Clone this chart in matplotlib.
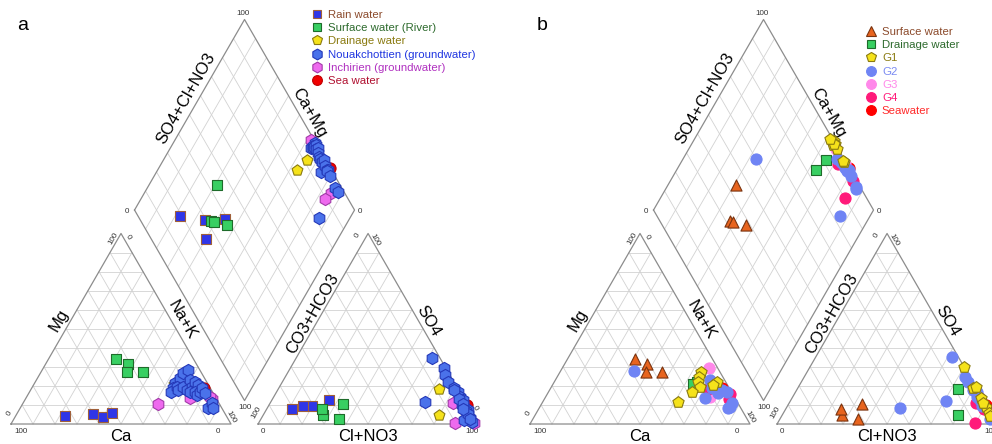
import numpy as np
import matplotlib
matplotlib.use('Agg')
import matplotlib.pyplot as plt
from matplotlib.lines import Line2D

plt.rcParams['font.family'] = ['Liberation Sans', 'DejaVu Sans']

# ---- sample data, % meq : Ca, Mg (cations) and Cl+NO3, SO4 (anions) ----
rain_ca = [73.4, 60.3, 56.3, 51.2]
rain_mg = [4.2, 5.1, 3.5, 5.6]
rain_cl = [11.5, 19.6, 15.5, 26.2]
rain_so4 = [7.7, 9.6, 9.6, 12.4]

river_ca = [35.2, 31.0, 33.5, 26.4]
river_mg = [34.1, 31.3, 27.5, 27.5]
river_cl = [33.6, 27.4, 24.9, 35.7]
river_so4 = [10.3, 4.6, 8.0, 2.6]

drain_ca = [13.0, 15.5]
drain_mg = [22.0, 21.0]
drain_cl = [73.1, 79.9]
drain_so4 = [18.4, 4.7]

nouak_ca = [14.8, 17.1, 19.1, 11.2, 8.4, 14.9, 5.2, 15.1, 11.9, 7.0, 11.2, 8.1,
            5.3, 10.1, 4.6, 7.9, 8.0, 5.6, 3.9, 3.8, 6.2, 3.3, 3.9]
nouak_mg = [21.4, 18.7, 16.6, 24.0, 26.6, 19.6, 28.3, 17.8, 19.6, 23.1, 17.8, 19.6,
            22.2, 17.0, 20.5, 17.0, 15.2, 17.0, 18.7, 16.1, 8.2, 10.9, 8.2]
nouak_cl = [62.0, 69.9, 72.2, 75.1, 79.5, 82.6, 84.8, 87.0, 90.0, 92.1, 94.9, 96.5,
            87.6, 92.0, 92.7, 80.0, 85.0, 88.0, 91.0, 93.0, 89.0, 70.0, 95.0]
nouak_so4 = [34.5, 29.6, 25.7, 22.2, 18.7, 17.0, 14.0, 12.6, 8.2, 5.6, 3.0, 1.2,
             10.0, 7.3, 2.1, 18.0, 13.0, 10.5, 7.0, 5.0, 8.0, 11.7, 2.5]

inch_ca = [27.9, 2.2, 2.4, 11.7]
inch_mg = [10.5, 13.0, 14.0, 13.8]
inch_cl = [98.0, 83.0, 89.2, 88.0]
inch_so4 = [0.5, 11.0, 0.3, 10.0]

sea_ca = [3.0]
sea_mg = [19.0]
sea_cl = [90.0]
sea_so4 = [10.0]

g1_ca = [8.5, 10.6, 12.4, 12.9, 18.0, 26.7, 4.0, 6.4]
g1_mg = [27.5, 24.8, 22.2, 19.6, 17.0, 11.7, 22.2, 20.5]
g1_cl = [70.0, 79.5, 80.5, 86.0, 90.5, 93.5, 88.0, 95.0]
g1_so4 = [30.0, 19.0, 19.5, 13.5, 9.0, 5.6, 11.0, 4.0]

g2_ca = [38.6, 6.6, 8.1, 6.2, 4.0, 2.1, 4.5, 2.9, 5.8, 13.7, 6.4]
g2_mg = [28.0, 23.1, 18.7, 17.8, 17.8, 17.0, 9.1, 10.9, 8.2, 13.5, 16.1]
g2_cl = [51.8, 61.9, 73.1, 75.9, 82.3, 86.0, 88.3, 70.8, 95.5, 80.0, 84.0]
g2_so4 = [8.2, 35.0, 24.8, 22.2, 17.0, 12.6, 9.4, 12.1, 2.5, 18.0, 14.0]

g3_ca = [3.9, 11.0]
g3_mg = [29.2, 14.3]
g3_cl = [82.0, 85.0]
g3_so4 = [17.0, 14.0]

g4_ca = [3.0, 9.8, 1.5]
g4_mg = [13.0, 18.5, 15.5]
g4_cl = [89.8, 85.0, 90.0]
g4_so4 = [0.4, 11.0, 8.0]

names_a = ['Rain water', 'Surface water (River)', 'Drainage water',
           'Nouakchottien (groundwater)', 'Inchirien (groundwater)', 'Sea water']
names_b = ['Surface water', 'Drainage water', 'G1', 'G2', 'G3', 'G4', 'Seawater']

# ---- styles ----
STY = {
    'rain':  dict(marker='s', fc='#2f35e8', ec='#a0603a', ms=6.5),
    'river': dict(marker='s', fc='#38cf62', ec='#1e6b2a', ms=6.5),
    'drain': dict(marker='p', fc='#f5e21a', ec='#8a7a10', ms=8.2),
    'nouak': dict(marker='h', fc='#4a72ea', ec='#2438b8', ms=8.8),
    'inch':  dict(marker='h', fc='#ee6aee', ec='#a23aa8', ms=8.8),
    'sea':   dict(marker='o', fc='#f00000', ec='#c00000', ms=8.0),
    'surf':  dict(marker='^', fc='#e8641e', ec='#7a3410', ms=8.0),
    'g1':    dict(marker='p', fc='#f5e21a', ec='#8a7a10', ms=8.5),
    'g2':    dict(marker='o', fc='#6f84f4', ec='#6f84f4', ms=8.0),
    'g3':    dict(marker='o', fc='#ff88ea', ec='#ff88ea', ms=8.0),
    'g4':    dict(marker='o', fc='#ff1a7a', ec='#ff1a7a', ms=8.0),
    'sea_b': dict(marker='o', fc='#ff0000', ec='#ff0000', ms=8.0),
}
txt_a = ['#8b4a2b', '#2d6a2d', '#8a7a10', '#1f35e0', '#b030c0', '#b01030']
txt_b = ['#8b4a2b', '#2d6a2d', '#8a7a10', '#7a8af2', '#ff88ea', '#ff1a7a', '#ff2a2a']

H = np.sqrt(3) / 2
GAP = 12.3
OFF = 100 + GAP


def dpt(p, q):
    # diamond point from Na+K % (p) and SO4+Cl % (q)
    return 50 + GAP / 2 + (p + q) / 2, (100 + GAP) * H + (q - p) * H


def plot_group(ax, ca, mg, cl, so4, key, z):
    ca, mg, cl, so4 = (np.asarray(v, float) for v in (ca, mg, cl, so4))
    nak = 100 - ca - mg
    xs = np.concatenate([nak + mg / 2, OFF + cl + so4 / 2, dpt(nak, cl + so4)[0]])
    ys = np.concatenate([mg * H, so4 * H, dpt(nak, cl + so4)[1]])
    st = STY[key]
    ax.scatter(xs, ys, s=st['ms'] ** 2, marker=st['marker'], c=st['fc'],
               edgecolors=st['ec'], linewidths=0.8, zorder=z)


def frame(ax):
    grid = dict(color='#d2d2d2', lw=0.6, zorder=1)
    edge = dict(color='#8c8c8c', lw=0.9, zorder=2)
    for x0 in (0, OFF):
        for i in range(10, 100, 10):
            ax.plot([x0 + i / 2, x0 + 100 - i / 2], [i * H, i * H], **grid)
            ax.plot([x0 + i, x0 + 50 + i / 2], [0, (100 - i) * H], **grid)
            ax.plot([x0 + i, x0 + i / 2], [0, i * H], **grid)
        ax.plot([x0, x0 + 100, x0 + 50, x0], [0, 0, 100 * H, 0], **edge)
    for i in range(10, 100, 10):
        a, b = dpt(i, 0), dpt(i, 100)
        ax.plot([a[0], b[0]], [a[1], b[1]], **grid)
        a, b = dpt(0, i), dpt(100, i)
        ax.plot([a[0], b[0]], [a[1], b[1]], **grid)
    cs = [dpt(0, 0), dpt(100, 0), dpt(100, 100), dpt(0, 100), dpt(0, 0)]
    ax.plot([c[0] for c in cs], [c[1] for c in cs], **edge)

    L, T, R = dpt(0, 0), dpt(0, 100), dpt(100, 100)
    nl, nr = np.array([-H, 0.5]), np.array([H, 0.5])
    labels = [
        ('Mg', (0, 0), (50, 100 * H), 0.52, 4.6, nl, 60),
        ('Na+K', (100, 0), (50, 100 * H), 0.52, 4.3, nr, -60),
        ('CO3+HCO3', (OFF, 0), (OFF + 50, 100 * H), 0.56, 3.4, nl, 60),
        ('SO4', (OFF + 100, 0), (OFF + 50, 100 * H), 0.52, 3.8, nr, -60),
        ('SO4+Cl+NO3', L, T, 0.555, 5.2, nl, 60),
        ('Ca+Mg', T, R, 0.515, 4.2, nr, -60),
    ]
    for s, a, b, f, off, n, rot in labels:
        a, b = np.array(a), np.array(b)
        p = a + f * (b - a) + off * n
        ax.text(p[0], p[1], s, rotation=rot, fontsize=12, ha='center',
                va='center', rotation_mode='anchor')
    ax.text(50, -5.9, 'Ca', fontsize=12, ha='center', va='center')
    ax.text(OFF + 50, -5.9, 'Cl+NO3', fontsize=12, ha='center', va='center')

    ticks = [('100', 4.5, -3.6, 0), ('0', 94.1, -3.6, 0), ('0', -0.5, 5.0, 60),
             ('100', 46.4, 84.5, 60), ('0', 53.2, 85.0, -60), ('100', 99.8, 3.2, -60),
             ('0', OFF + 2.1, -3.2, 0), ('100', OFF + 97.1, -3.2, 0),
             ('100', OFF - 0.6, 5.0, 60), ('0', OFF + 45.4, 85.9, 60),
             ('100', OFF + 53.2, 83.6, -60), ('0', OFF + 98.6, 7.3, -60),
             ('100', 105.5, 186.8, 0), ('0', 52.7, 96.8, 0),
             ('0', 158.6, 96.8, 0), ('100', 106.4, 7.3, 0)]
    for s, x, y, rot in ticks:
        ax.text(x, y, s, fontsize=5.8, rotation=rot, ha='center', va='center',
                rotation_mode='anchor', color='#333333')


def add_legend(ax, names, keys, colors, x_px, y_px):
    hs = [Line2D([], [], ls='none', marker=STY[k]['marker'], mfc=STY[k]['fc'],
                 mec=STY[k]['ec'], mew=0.8, ms=STY[k]['ms'] * 0.88) for k in keys]
    leg = ax.legend(hs, names, loc='upper left',
                    bbox_to_anchor=(x_px / 992, 1 - y_px / 444),
                    bbox_transform=fig.transFigure, frameon=False, fontsize=8.2,
                    handlelength=0.9, handletextpad=0.5, labelspacing=0.28,
                    borderpad=0, borderaxespad=0)
    for t, c in zip(leg.get_texts(), colors):
        t.set_color(c)


fig = plt.figure(figsize=(9.92, 4.44), dpi=100)
ax_a = fig.add_axes([0, 0, 0.5, 1])
ax_b = fig.add_axes([0.5, 0, 0.5, 1])
ax_a.set_xlim(-5, 220.45)
ax_b.set_xlim(-15.45, 210)
for ax in (ax_a, ax_b):
    ax.set_ylim(-9.09, 192.73)
    ax.axis('off')
    frame(ax)

plot_group(ax_a, rain_ca, rain_mg, rain_cl, rain_so4, 'rain', 3)
plot_group(ax_a, river_ca, river_mg, river_cl, river_so4, 'river', 3)
plot_group(ax_a, drain_ca, drain_mg, drain_cl, drain_so4, 'drain', 3)
plot_group(ax_a, sea_ca, sea_mg, sea_cl, sea_so4, 'sea', 3)
plot_group(ax_a, inch_ca, inch_mg, inch_cl, inch_so4, 'inch', 4)
plot_group(ax_a, nouak_ca, nouak_mg, nouak_cl, nouak_so4, 'nouak', 5)

plot_group(ax_b, river_ca, river_mg, river_cl, river_so4, 'surf', 3)
plot_group(ax_b, drain_ca, drain_mg, drain_cl, drain_so4, 'river', 3)
plot_group(ax_b, sea_ca, sea_mg, sea_cl, sea_so4, 'sea_b', 3)
plot_group(ax_b, g3_ca, g3_mg, g3_cl, g3_so4, 'g3', 4)
plot_group(ax_b, g4_ca, g4_mg, g4_cl, g4_so4, 'g4', 4)
plot_group(ax_b, g2_ca, g2_mg, g2_cl, g2_so4, 'g2', 5)
plot_group(ax_b, g1_ca, g1_mg, g1_cl, g1_so4, 'g1', 6)

add_legend(ax_a, names_a, ['rain', 'river', 'drain', 'nouak', 'inch', 'sea'],
           txt_a, 312, 10)
add_legend(ax_b, names_b, ['surf', 'river', 'g1', 'g2', 'g3', 'g4', 'sea_b'],
           txt_b, 866, 27)

fig.text(17 / 992, 1 - 25 / 444, 'a', fontsize=14, va='center')
fig.text(537 / 992, 1 - 25 / 444, 'b', fontsize=14, va='center')

fig.savefig('out.png', dpi=100)
